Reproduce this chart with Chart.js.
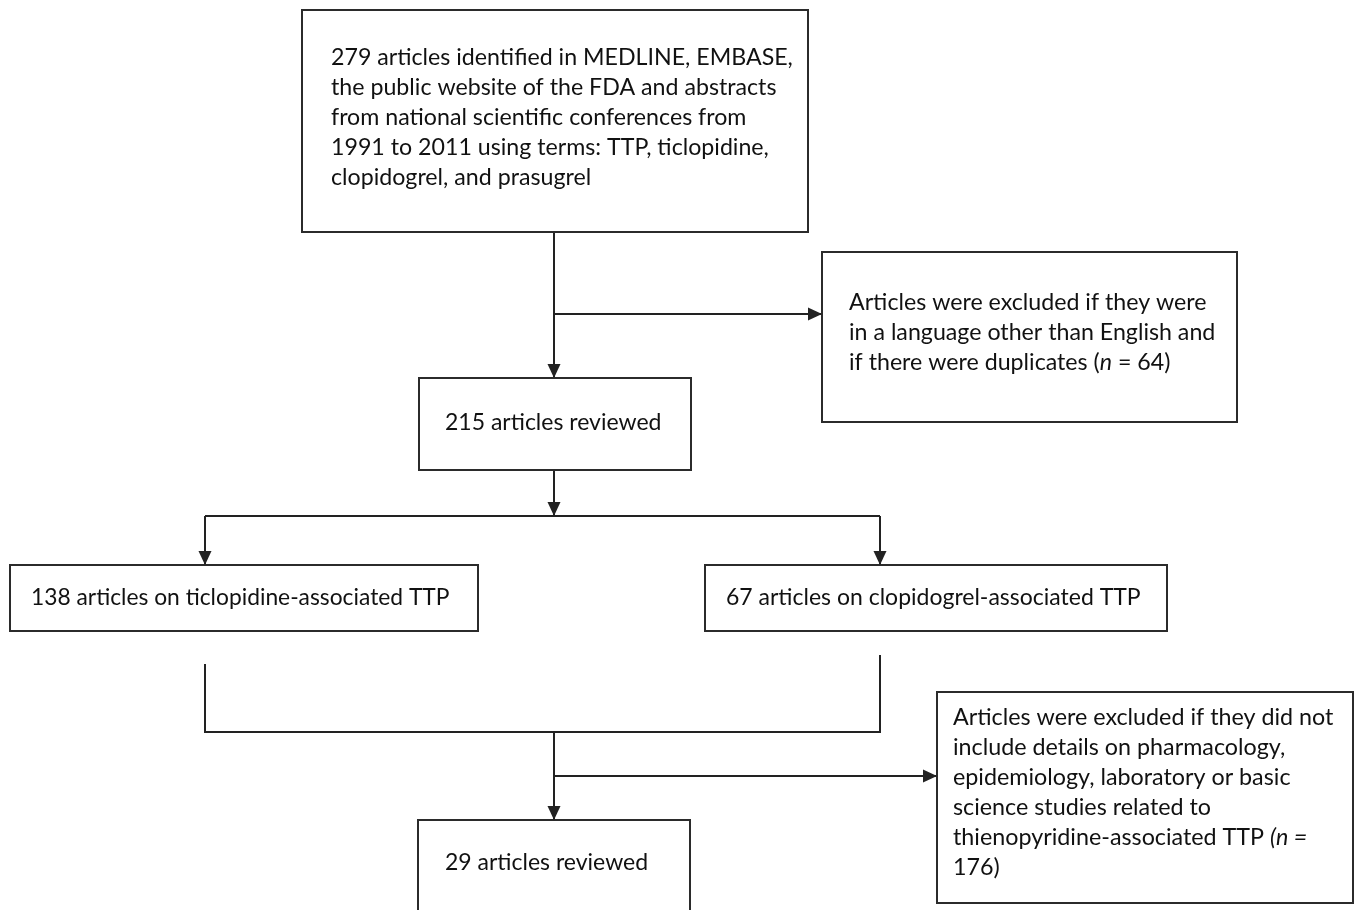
<!DOCTYPE html>
<html>
<head>
<meta charset="utf-8">
<script src="https://cdn.jsdelivr.net/npm/chart.js@4.4.0/dist/chart.umd.min.js"></script>
<style>
  html, body { margin: 0; padding: 0; background: #fff; }
  canvas { display: block; }
</style>
</head>
<body>
<canvas id="flowChart" width="1358" height="910"></canvas>
<script>
// text of each box, *...* marks italic
const topBoxText = [
    '279 articles identified in MEDLINE, EMBASE,',
    'the public website of the FDA and abstracts',
    'from national scientific conferences from',
    '1991 to 2011 using terms: TTP, ticlopidine,',
    'clopidogrel, and prasugrel'
];
const exclusion1Text = [
    'Articles were excluded if they were',
    'in a language other than English and',
    'if there were duplicates (*n* = 64)'
];
const reviewed1Text = ['215 articles reviewed'];
const ticlopidineText = ['138 articles on ticlopidine-associated TTP'];
const clopidogrelText = ['67 articles on clopidogrel-associated TTP'];
const exclusion2Text = [
    'Articles were excluded if they did not',
    'include details on pharmacology,',
    'epidemiology, laboratory or basic',
    'science studies related to',
    'thienopyridine-associated TTP *(n =*',
    '176)'
];
const reviewed2Text = ['29 articles reviewed'];

// layout in page units: box rect, text left, first baseline, font size
const boxes = [
    { text: topBoxText,      x0: 302, y0: 10,  x1: 808,  y1: 232, tx: 331, ty: 65,  fs: 23.2 },
    { text: exclusion1Text,  x0: 822, y0: 252, x1: 1237, y1: 422, tx: 849, ty: 310, fs: 23.2 },
    { text: reviewed1Text,   x0: 419, y0: 378, x1: 691,  y1: 470, tx: 445, ty: 430, fs: 23 },
    { text: ticlopidineText, x0: 10,  y0: 565, x1: 478,  y1: 631, tx: 31,  ty: 605, fs: 22.8 },
    { text: clopidogrelText, x0: 705, y0: 565, x1: 1167, y1: 631, tx: 726, ty: 605, fs: 23 },
    { text: exclusion2Text,  x0: 937, y0: 692, x1: 1353, y1: 903, tx: 953, ty: 725, fs: 23.3 },
    { text: reviewed2Text,   x0: 418, y0: 820, x1: 690,  y1: 925, tx: 445, ty: 870, fs: 23 }
];
const lineStep = 30;

// connectors, arrow drawn at the last point
const connectors = [
    { pts: [[554, 232], [554, 378]], arrow: true },
    { pts: [[554, 314], [822, 314]], arrow: true },
    { pts: [[554, 470], [554, 516]], arrow: true },
    { pts: [[205, 516], [880, 516]], arrow: false },
    { pts: [[205, 516], [205, 565]], arrow: true },
    { pts: [[880, 516], [880, 565]], arrow: true },
    { pts: [[205, 664], [205, 732], [880, 732], [880, 655]], arrow: false },
    { pts: [[554, 732], [554, 820]], arrow: true },
    { pts: [[554, 776], [937, 776]], arrow: true }
];

const FONT = 'Lato, "Open Sans", sans-serif';

const flowPlugin = {
    id: 'flowBoxes',
    afterDatasetsDraw(chart) {
        const ctx = chart.ctx;
        const xs = chart.scales.x, ys = chart.scales.y;
        ctx.save();
        // boxes
        ctx.strokeStyle = '#2b2b2b';
        ctx.lineWidth = 2;
        boxes.forEach(b => {
            const l = xs.getPixelForValue(b.x0), r = xs.getPixelForValue(b.x1);
            const t = ys.getPixelForValue(b.y0), bt = ys.getPixelForValue(b.y1);
            ctx.fillStyle = '#fff';
            ctx.fillRect(l, t, r - l, bt - t);
            ctx.strokeRect(l, t, r - l, bt - t);
            ctx.fillStyle = '#111';
            ctx.textBaseline = 'alphabetic';
            b.text.forEach((line, i) => {
                let x = xs.getPixelForValue(b.tx);
                const y = ys.getPixelForValue(b.ty + i * lineStep);
                const parts = line.split('*');
                parts.forEach((p, k) => {
                    ctx.font = (k % 2 ? 'italic ' : '') + b.fs + 'px ' + FONT;
                    ctx.fillText(p, x, y);
                    x += ctx.measureText(p).width;
                });
            });
        });
        // arrowheads
        ctx.fillStyle = '#222';
        connectors.forEach(c => {
            if (!c.arrow) return;
            const n = c.pts.length;
            const ex = xs.getPixelForValue(c.pts[n - 1][0]), ey = ys.getPixelForValue(c.pts[n - 1][1]);
            const sx = xs.getPixelForValue(c.pts[n - 2][0]), sy = ys.getPixelForValue(c.pts[n - 2][1]);
            const a = Math.atan2(ey - sy, ex - sx);
            const len = 14, hw = 6.5;
            ctx.beginPath();
            ctx.moveTo(ex, ey);
            ctx.lineTo(ex - len * Math.cos(a) + hw * Math.sin(a), ey - len * Math.sin(a) - hw * Math.cos(a));
            ctx.lineTo(ex - len * Math.cos(a) - hw * Math.sin(a), ey - len * Math.sin(a) + hw * Math.cos(a));
            ctx.closePath();
            ctx.fill();
        });
        ctx.restore();
    }
};

const ctx = document.getElementById('flowChart').getContext('2d');
new Chart(ctx, {
    type: 'scatter',
    data: {
        datasets: connectors.map(c => ({
            data: c.pts.map(p => ({ x: p[0], y: p[1] })),
            showLine: true,
            borderColor: '#222',
            borderWidth: 2,
            pointRadius: 0,
            fill: false,
            clip: false
        }))
    },
    options: {
        responsive: false,
        animation: false,
        layout: { padding: 0 },
        plugins: { legend: { display: false }, tooltip: { enabled: false } },
        scales: {
            x: { type: 'linear', min: 0, max: 1358, display: false },
            y: { type: 'linear', min: 0, max: 910, reverse: true, display: false }
        }
    },
    plugins: [flowPlugin]
});
</script>
</body>
</html>
